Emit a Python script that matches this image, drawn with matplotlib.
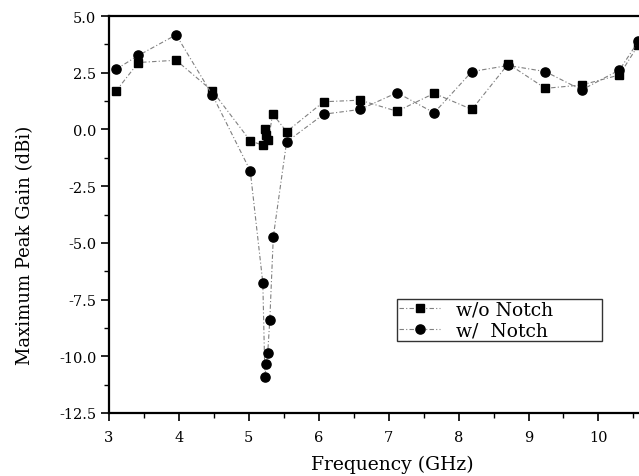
import matplotlib
matplotlib.use("Agg")
import matplotlib.pyplot as plt
from matplotlib.ticker import MultipleLocator, FormatStrFormatter

freq_wo = [3.10, 3.42, 3.96, 4.48, 5.02, 5.20, 5.23, 5.25, 5.28, 5.34, 5.54, 6.07, 6.59, 7.12, 7.65, 8.19, 8.71, 9.24, 9.76, 10.30, 10.57]
gain_wo = [1.69, 2.95, 3.05, 1.69, -0.50, -0.70, 0.04, -0.26, -0.48, 0.69, -0.10, 1.22, 1.29, 0.80, 1.59, 0.88, 2.89, 1.81, 1.96, 2.40, 3.72]

freq_w = [3.10, 3.42, 3.96, 4.48, 5.02, 5.20, 5.23, 5.25, 5.27, 5.30, 5.35, 5.54, 6.07, 6.59, 7.12, 7.65, 8.19, 8.71, 9.24, 9.76, 10.30, 10.57]
gain_w = [2.65, 3.26, 4.17, 1.51, -1.82, -6.76, -10.92, -10.33, -9.86, -8.38, -4.73, -0.55, 0.67, 0.88, 1.62, 0.73, 2.55, 2.82, 2.55, 1.74, 2.62, 3.88]

labels = ["w/o Notch", "w/  Notch"]

plt.rcParams['font.family'] = ['DejaVu Serif', 'Liberation Serif']

W, H = 639, 477
L, R, T, B = 109, 639, 17, 414
fig = plt.figure(figsize=(W/100, H/100), dpi=100)
ax = fig.add_axes([L/W, 1-B/H, (R-L)/W, (B-T)/H])

ls = (0, (4, 2, 1, 2))
ax.plot(freq_wo, gain_wo, linestyle=ls, color='#808080', lw=0.8,
        marker='s', ms=6.0, mfc='black', mec='black', label=labels[0])
ax.plot(freq_w, gain_w, linestyle=ls, color='#808080', lw=0.8,
        marker='o', ms=6.6, mfc='black', mec='black', label=labels[1])

ax.set_xlim(3, 10.58)
ax.set_ylim(-12.5, 5.0)
ax.xaxis.set_major_locator(MultipleLocator(1))
ax.xaxis.set_minor_locator(MultipleLocator(0.5))
ax.yaxis.set_major_locator(MultipleLocator(2.5))
ax.yaxis.set_minor_locator(MultipleLocator(1.25))
ax.yaxis.set_major_formatter(FormatStrFormatter('%.1f'))

ax.spines['right'].set_visible(False)
for s in ['left', 'bottom', 'top']:
    ax.spines[s].set_linewidth(1.6)
ax.tick_params(which='major', direction='out', length=6, width=1.2, labelsize=10.5, colors='black')
ax.tick_params(which='minor', direction='out', length=3.5, width=1.0)
ax.tick_params(axis='x', pad=6)
ax.tick_params(axis='y', pad=3)
ax.tick_params(top=False, right=False, which='both')

ax.set_xlabel("Frequency (GHz)", fontsize=13.5, va='center')
ax.xaxis.set_label_coords((392-L)/(R-L), -(465-B)/(B-T))
ax.set_ylabel("Maximum Peak Gain (dBi)", fontsize=13, va='center')
ax.yaxis.set_label_coords(-(L-25)/(R-L), (B-245)/(B-T))

leg = ax.legend(loc='lower left',
                bbox_to_anchor=((397-L)/(R-L), (B-342)/(B-T), (602-397)/(R-L), (342-294)/(B-T)),
                mode='expand', fontsize=13.5, frameon=True, fancybox=False,
                edgecolor='black', handlelength=2.2, borderpad=0.1, labelspacing=0.12,
                handletextpad=0.85, borderaxespad=0)
leg.get_frame().set_linewidth(1.0)

fig.savefig("out.png", dpi=100)
